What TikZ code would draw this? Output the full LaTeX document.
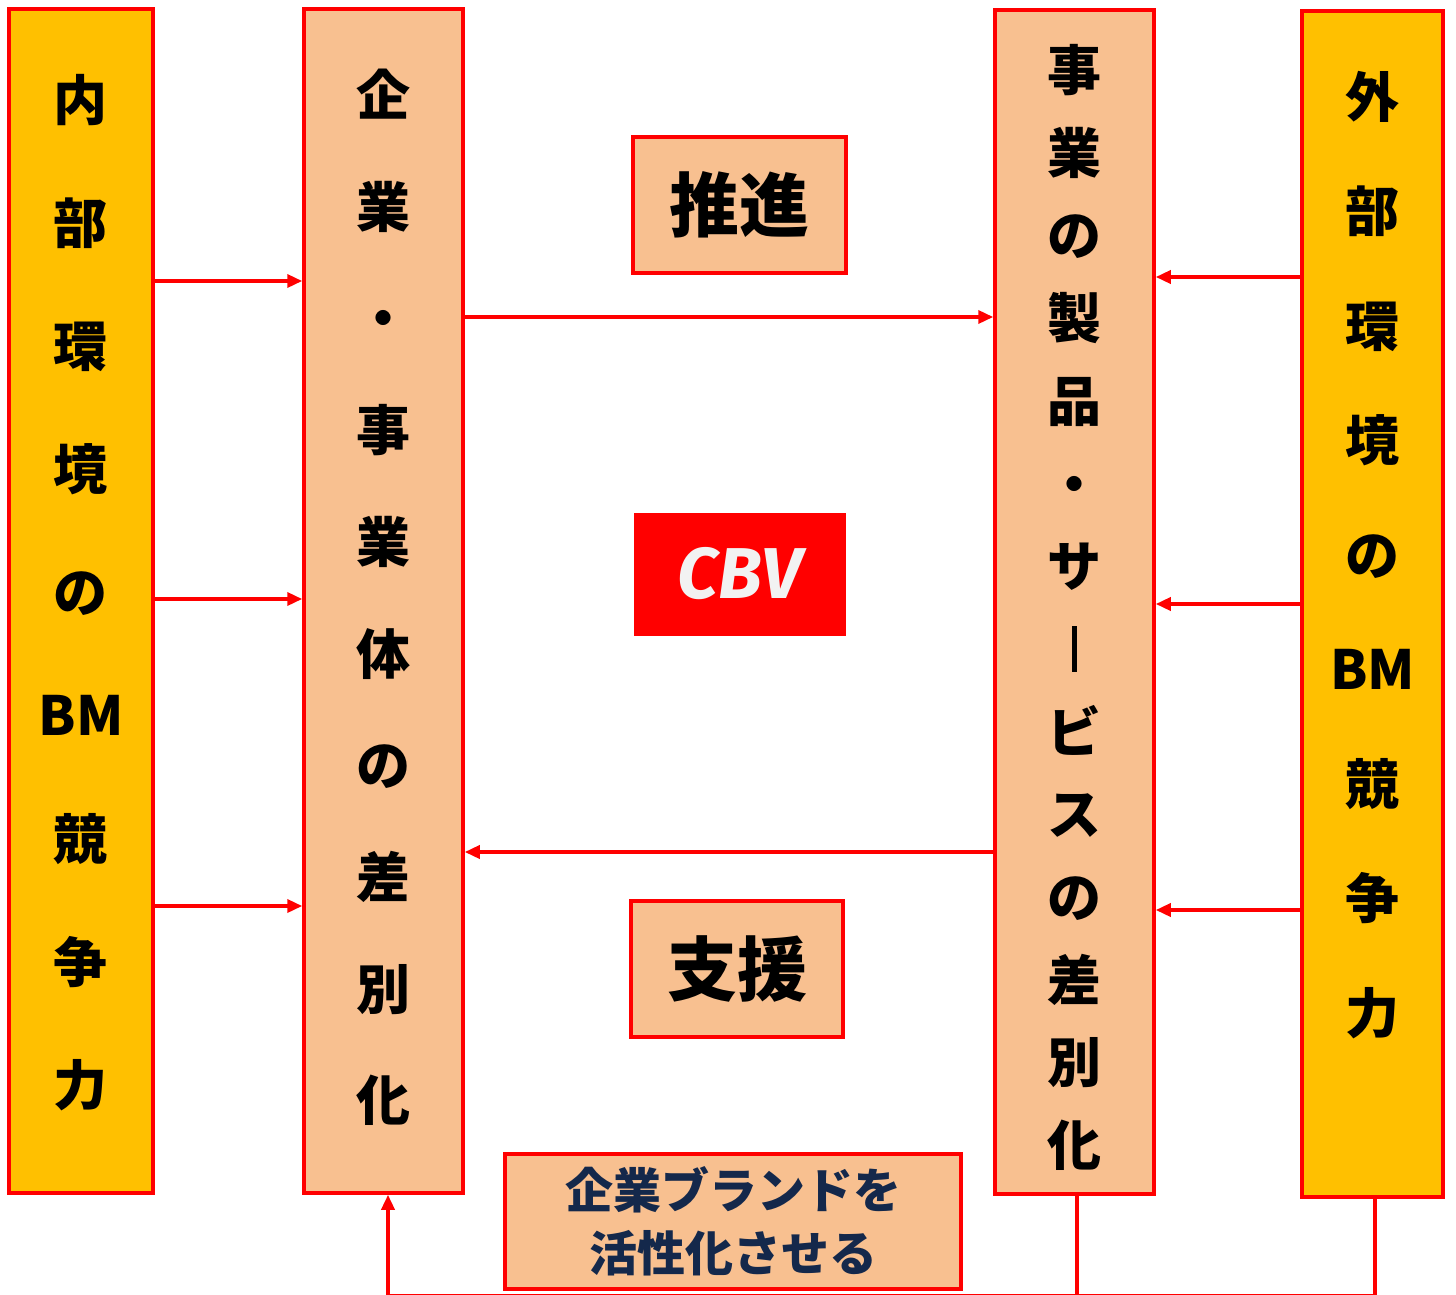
\documentclass[tikz,border=0pt]{standalone}
\usepackage{fontspec}
\newfontfamily\jp{Noto Sans CJK JP Black}
\newfontfamily\cbvfont{Fira Sans}
\usetikzlibrary{arrows.meta}
\definecolor{orangebox}{HTML}{FFC000}
\definecolor{peach}{HTML}{F8C090}
\definecolor{redline}{HTML}{FF0000}
\definecolor{navy}{HTML}{14284B}
\definecolor{cbvtext}{HTML}{F2F2F2}
\begin{document}
\begin{tikzpicture}[x=1pt,y=-1pt,
  boxbase/.style={draw=redline,line width=3.5pt,inner sep=0,rectangle},
  orangecol/.style={boxbase,fill=orangebox},
  peachbox/.style={boxbase,fill=peach},
  vtext/.style={inner sep=0,align=center,text=black},
  arr/.style={draw=redline,line width=3.5pt,-{Triangle[length=15pt,width=13pt]}},
  plainline/.style={draw=redline,line width=3.5pt}
]
\useasboundingbox (0,0) rectangle (1456,1295);
% columns
\node[orangecol,minimum width=144pt,minimum height=1184pt] (inL) at (81,601) {};
\node[peachbox,minimum width=159pt,minimum height=1184pt] (corp) at (383.5,601) {};
\node[peachbox,minimum width=159pt,minimum height=1184pt] (prod) at (1074.5,602) {};
\node[orangecol,minimum width=141pt,minimum height=1186pt] (outR) at (1372.5,604) {};
% column texts
\node[vtext,font=\jp\fontsize{54}{123.1}\selectfont] (tinL) at (81,592.5)
  {内\\部\\環\\境\\の\\BM\\競\\争\\力};
\node[vtext,font=\jp\fontsize{54}{111.7}\selectfont] (tcorp) at (383.5,597.5)
  {企\\業\\・\\事\\業\\体\\の\\差\\別\\化};
\node[vtext,font=\jp\fontsize{54}{82.7}\selectfont] (tprod) at (1074.5,607.5)
  {事\\業\\の\\製\\品\\・\\サ\\\rule[-0.05em]{0.11em}{0.85em}\\ビ\\ス\\の\\差\\別\\化};
\node[vtext,font=\jp\fontsize{54}{114.5}\selectfont] (toutR) at (1372.5,555)
  {外\\部\\環\\境\\の\\BM\\競\\争\\力};
% middle boxes
\node[peachbox,minimum width=213pt,minimum height=136pt,font=\jp\fontsize{70}{80}\selectfont] (suishin) at (739.5,205) {推進};
\node[draw=redline,fill=redline,line width=1pt,inner sep=0,minimum width=211pt,minimum height=122pt,text=cbvtext,font=\cbvfont\bfseries\itshape\fontsize{72}{80}\selectfont] (cbv) at (739.5,574) {CBV};
\node[peachbox,minimum width=212pt,minimum height=136pt,font=\jp\fontsize{70}{80}\selectfont] (shien) at (737,969) {支援};
\node[peachbox,minimum width=456pt,minimum height=135pt,align=center,text=navy,font=\jp\fontsize{48}{63}\selectfont] (brand) at (733,1221.5) {企業ブランドを\\活性化させる};
% helper coordinates
\coordinate (yA) at (0,281);
\coordinate (yB) at (0,599);
\coordinate (yC) at (0,906);
\coordinate (yD) at (0,317);
\coordinate (yE) at (0,852);
\coordinate (yF) at (0,277);
\coordinate (yG) at (0,604);
\coordinate (yH) at (0,910);
\coordinate (bl) at (388,1296);
\coordinate (bm) at (1077,1296);
\coordinate (br) at (1375,1296);
% arrows from left column
\draw[arr] (inL.east |- yA) -- (corp.west |- yA);
\draw[arr] (inL.east |- yB) -- (corp.west |- yB);
\draw[arr] (inL.east |- yC) -- (corp.west |- yC);
% middle arrows
\draw[arr] (corp.east |- yD) -- (prod.west |- yD);
\draw[arr] (prod.west |- yE) -- (corp.east |- yE);
% arrows from right column
\draw[arr] (outR.west |- yF) -- (prod.east |- yF);
\draw[arr] (outR.west |- yG) -- (prod.east |- yG);
\draw[arr] (outR.west |- yH) -- (prod.east |- yH);
% bottom feedback loop
\draw[plainline] (prod.south -| bm) -- (bm);
\draw[plainline] (outR.south -| br) -- (br) -- (bl);
\draw[arr] (bl) -- (corp.south -| bl);
\end{tikzpicture}
\end{document}
